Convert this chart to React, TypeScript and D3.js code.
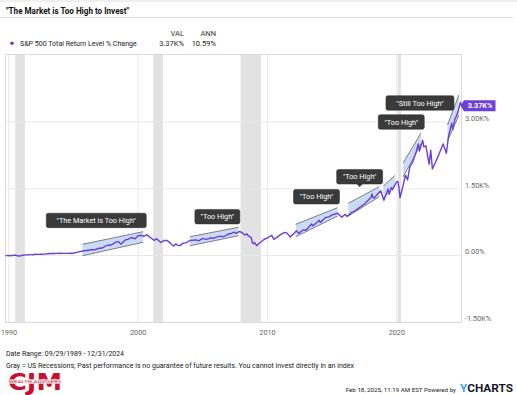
import React from "react";
import * as d3 from "d3";

// ---------- DATA ----------
const seriesName = "S&P 500 Total Return Level % Change";
const titleText = '"The Market is Too High to Invest"';
const legendVal = "3.37K%";
const legendAnn = "10.59%";

// S&P 500 total return level, % change since 09/29/1989
const sp500: [string, number][] = [
  ["1989-09-29", 0], ["1989-10-31", -2], ["1989-12-31", 2], ["1990-01-31", -5], ["1990-03-31", -1],
  ["1990-05-31", 4], ["1990-07-31", 4], ["1990-08-31", -6], ["1990-10-31", -10], ["1990-12-31", -1],
  ["1991-02-28", 10], ["1991-04-30", 13], ["1991-06-30", 13], ["1991-08-31", 20], ["1991-10-31", 19],
  ["1991-11-30", 14], ["1991-12-31", 29], ["1992-03-31", 25], ["1992-06-30", 29], ["1992-09-30", 32],
  ["1992-12-31", 39], ["1993-03-31", 44], ["1993-06-30", 45], ["1993-09-30", 48], ["1993-12-31", 53],
  ["1994-03-31", 47], ["1994-06-30", 47], ["1994-09-30", 52], ["1994-11-30", 46], ["1994-12-31", 55],
  ["1995-03-31", 69], ["1995-06-30", 86], ["1995-09-30", 101], ["1995-12-31", 113], ["1996-03-31", 125],
  ["1996-06-30", 134], ["1996-07-31", 128], ["1996-09-30", 141], ["1996-12-31", 162], ["1997-03-31", 169],
  ["1997-06-30", 216], ["1997-09-30", 240], ["1997-10-31", 230], ["1997-12-31", 250], ["1998-03-31", 298],
  ["1998-06-30", 311], ["1998-08-31", 255], ["1998-09-30", 277], ["1998-12-31", 349], ["1999-03-31", 370],
  ["1999-06-30", 405], ["1999-09-30", 373], ["1999-12-31", 444], ["2000-03-31", 456], ["2000-05-31", 430],
  ["2000-08-31", 466], ["2000-10-31", 430], ["2000-12-31", 394], ["2001-03-31", 336], ["2001-05-31", 380],
  ["2001-06-30", 361], ["2001-09-30", 293], ["2001-12-31", 336], ["2002-03-31", 337], ["2002-06-30", 278],
  ["2002-07-31", 248], ["2002-09-30", 213], ["2002-11-30", 266], ["2002-12-31", 239], ["2003-02-28", 222],
  ["2003-03-31", 228], ["2003-06-30", 279], ["2003-09-30", 289], ["2003-12-31", 337], ["2004-03-31", 344],
  ["2004-06-30", 352], ["2004-08-31", 330], ["2004-12-31", 384], ["2005-03-31", 363], ["2005-06-30", 381],
  ["2005-07-31", 399], ["2005-10-31", 384], ["2005-12-31", 408], ["2006-04-30", 435], ["2006-06-30", 422],
  ["2006-09-30", 443], ["2006-12-31", 488], ["2007-02-28", 490], ["2007-05-31", 525], ["2007-07-31", 500],
  ["2007-10-31", 540], ["2007-12-31", 521], ["2008-03-31", 462], ["2008-05-31", 486], ["2008-06-30", 447],
  ["2008-09-30", 401], ["2008-10-31", 286], ["2008-11-30", 262], ["2008-12-31", 291], ["2009-02-28", 220],
  ["2009-03-31", 248], ["2009-06-30", 303], ["2009-09-30", 366], ["2009-12-31", 395], ["2010-04-30", 455],
  ["2010-06-30", 362], ["2010-09-30", 414], ["2010-12-31", 469], ["2011-04-30", 518], ["2011-06-30", 509],
  ["2011-09-30", 418], ["2011-12-31", 481], ["2012-03-31", 554], ["2012-05-31", 497], ["2012-09-30", 575],
  ["2012-12-31", 574], ["2013-05-31", 708], ["2013-06-30", 667], ["2013-09-30", 727], ["2013-12-31", 793],
  ["2014-01-31", 745], ["2014-06-30", 855], ["2014-09-30", 870], ["2014-12-31", 915], ["2015-05-31", 950],
  ["2015-09-30", 861], ["2015-12-31", 929], ["2016-02-29", 875], ["2016-06-30", 968], ["2016-09-30", 1000],
  ["2016-12-31", 1053], ["2017-06-30", 1159], ["2017-12-31", 1304], ["2018-01-31", 1384], ["2018-02-28", 1295],
  ["2018-03-31", 1293], ["2018-09-30", 1458], ["2018-12-31", 1242], ["2019-04-30", 1497], ["2019-05-31", 1374],
  ["2019-07-31", 1528], ["2019-08-31", 1480], ["2019-12-31", 1665], ["2020-01-31", 1660], ["2020-02-29", 1530],
  ["2020-03-31", 1299], ["2020-06-30", 1586], ["2020-08-31", 1807], ["2020-10-31", 1700], ["2020-12-31", 1990],
  ["2021-03-31", 2113], ["2021-06-30", 2336], ["2021-08-31", 2508], ["2021-09-30", 2350], ["2021-12-31", 2590],
  ["2022-01-31", 2442], ["2022-03-31", 2466], ["2022-06-30", 2053], ["2022-08-15", 2370], ["2022-09-30", 1948],
  ["2022-12-31", 2103], ["2023-03-31", 2269], ["2023-07-31", 2510], ["2023-10-31", 2300], ["2023-12-31", 2682],
  ["2024-03-31", 2974], ["2024-04-30", 2830], ["2024-06-30", 3080], ["2024-07-31", 3117], ["2024-09-30", 3250],
  ["2024-11-30", 3450], ["2024-12-31", 3370],
];

const recessions: [string, string][] = [
  ["1990-07-01", "1991-03-31"],
  ["2001-03-01", "2001-11-30"],
  ["2007-12-01", "2009-06-30"],
  ["2020-02-01", "2020-04-30"],
];

// "Too high" channels: from/to dates, low/high value at start and at end
const channelFrom = ["1995-09-15", "2004-01-05", "2012-03-10", "2016-04-01", "2018-12-15", "2020-06-25", "2023-12-01"];
const channelTo = ["2000-05-20", "2007-10-05", "2015-05-30", "2018-08-25", "2019-11-05", "2021-11-15", "2024-10-20"];
const channelLow0 = [-4, 220, 423, 888, 1293, 1765, 2575];
const channelHigh0 = [252, 423, 702, 1174, 1563, 2080, 2935];
const channelLow1 = [297, 445, 888, 1322, 1563, 2508, 3160];
const channelHigh1 = [535, 634, 1075, 1547, 1799, 2755, 3610];

const calloutTexts = ['"The Market is Too High"', '"Too High"', '"Too High"', '"Too High"', '"Too High"', '"Still Too High"'];
const calloutDates = ["1996-10-05", "2006-02-15", "2013-10-15", "2017-02-15", "2020-05-05", "2021-10-15"];
const calloutValues = [789, 873, 1322, 1770, 3002, 3430];
const calloutWidths = [100, 45, 46, 46, 46, 68];

const xTickYears = [1990, 2000, 2010, 2020];
const yTicks = [-1500, 0, 1500, 3000];

const footerLine1 = "Date Range: 09/29/1989 - 12/31/2024";
const footerLine2 =
  "Gray = US Recessions; Past performance is no guarantee of future results. You cannot invest directly in an index";
const footerStamp = "Feb 18, 2025, 11:19 AM EST Powered by";

// ---------- CHART ----------
const W = 517;
const H = 395;
const FONT = "Roboto, 'Noto Sans', sans-serif";
const PURPLE = "#6b3fd6";

export default function App() {
  const parse = d3.timeParse("%Y-%m-%d");
  const data = sp500.map(([d, v]) => ({ date: parse(d) as Date, value: v }));

  const x = d3
    .scaleTime()
    .domain([parse("1989-09-29") as Date, parse("2024-12-31") as Date])
    .range([5.5, 461.5]);
  const y = d3.scaleLinear().domain([-1500, 4500]).range([322.2, 55.4]);

  const plotTop = 54.5;
  const plotBottom = 322.5;
  const plotLeft = 5.5;
  const plotRight = 461.5;

  const line = d3
    .line<{ date: Date; value: number }>()
    .x((d) => x(d.date))
    .y((d) => y(d.value))
    .curve(d3.curveLinear);

  const fmt = (v: number) => (v === 0 ? "0.00%" : (v / 1000).toFixed(2) + "K%");

  const last = data[data.length - 1];
  const tagY = y(last.value);

  return (
    <svg
      width={W}
      height={H}
      viewBox={`0 0 ${W} ${H}`}
      style={{ position: "absolute", left: 0, top: 0, background: "#fff" }}
      fontFamily={FONT}
    >
      <rect x={0} y={0} width={W} height={H} fill="#fff" />
      <rect x={0} y={0} width={W} height={2} fill="#efefef" />

      {/* Title */}
      <text x={6} y={14} fontSize={9} fontWeight={700} fill="#111" textLength={123} lengthAdjust="spacingAndGlyphs">
        {titleText}
      </text>
      <line x1={0} x2={513} y1={17.5} y2={17.5} stroke="#dcdcdc" strokeWidth={1} />

      {/* Legend */}
      <text x={184} y={36} fontSize={7.5} fill="#333" textAnchor="end">VAL</text>
      <text x={216} y={36} fontSize={7.5} fill="#333" textAnchor="end">ANN</text>
      <circle cx={12} cy={43.3} r={1.8} fill={PURPLE} />
      <text x={20} y={46} fontSize={7.5} fill="#222" textLength={116.7} lengthAdjust="spacingAndGlyphs">
        {seriesName}
      </text>
      <text x={184} y={46} fontSize={7.5} fill="#222" textAnchor="end">{legendVal}</text>
      <text x={216} y={46} fontSize={7.5} fill="#222" textAnchor="end">{legendAnn}</text>

      {/* Recession bands */}
      {recessions.map(([a, b], i) => (
        <rect
          key={"rec" + i}
          x={x(parse(a) as Date)}
          y={plotTop}
          width={Math.max(1, x(parse(b) as Date) - x(parse(a) as Date))}
          height={plotBottom - plotTop}
          fill="#e2e2e2"
        />
      ))}

      {/* Grid */}
      {xTickYears.map((yr) => (
        <line
          key={"gx" + yr}
          x1={x(new Date(yr, 0, 1))}
          x2={x(new Date(yr, 0, 1))}
          y1={plotTop}
          y2={plotBottom}
          stroke="#e8e8e8"
          strokeWidth={1}
        />
      ))}
      {yTicks.map((v) => (
        <line key={"gy" + v} x1={plotLeft} x2={plotRight} y1={y(v)} y2={y(v)} stroke="#e8e8e8" strokeWidth={1} />
      ))}
      <rect
        x={plotLeft}
        y={plotTop}
        width={plotRight - plotLeft}
        height={plotBottom - plotTop}
        fill="none"
        stroke="#dadada"
        strokeWidth={1}
      />

      {/* Channels */}
      {channelFrom.map((f, i) => {
        const x0 = x(parse(f) as Date);
        const x1 = x(parse(channelTo[i]) as Date);
        const pts = [
          [x0, y(channelHigh0[i])],
          [x1, y(channelHigh1[i])],
          [x1, y(channelLow1[i])],
          [x0, y(channelLow0[i])],
        ];
        return (
          <g key={"ch" + i}>
            <polygon points={pts.map((p) => p.join(",")).join(" ")} fill="#bcd3f5" fillOpacity={0.8} />
            <line x1={x0} y1={y(channelHigh0[i])} x2={x1} y2={y(channelHigh1[i])} stroke="#7d7d7d" strokeWidth={1} />
            <line x1={x0} y1={y(channelLow0[i])} x2={x1} y2={y(channelLow1[i])} stroke="#7d7d7d" strokeWidth={1} />
          </g>
        );
      })}

      {/* Series line */}
      <path d={line(data) || ""} fill="none" stroke={PURPLE} strokeWidth={1.4} strokeLinejoin="round" />

      {/* Callouts */}
      {calloutTexts.map((t, i) => {
        const cx = x(parse(calloutDates[i]) as Date);
        const cy = y(calloutValues[i]);
        const w = calloutWidths[i];
        const h = 14.5;
        return (
          <g key={"co" + i}>
            <rect x={cx - w / 2} y={cy - h / 2} width={w} height={h} rx={2} fill="#3a3a3a" stroke="#2a2a2a" strokeWidth={0.5} />
            {i === 3 && (
              <polygon
                points={`${cx - 3},${cy + h / 2} ${cx + 3},${cy + h / 2} ${cx},${cy + h / 2 + 3}`}
                fill="#3a3a3a"
              />
            )}
            <text x={cx} y={cy + 2.6} fontSize={7.3} fill="#fff" textAnchor="middle">
              {t}
            </text>
          </g>
        );
      })}

      {/* Y axis labels */}
      {yTicks.map((v) => (
        <text key={"yl" + v} x={465} y={y(v) - 1.3} fontSize={7.3} fill="#666">
          {fmt(v)}
        </text>
      ))}

      {/* X axis labels */}
      {xTickYears.map((yr) => (
        <text key={"xl" + yr} x={x(new Date(yr, 0, 1))} y={334.5} fontSize={7.3} fill="#666" textAnchor="middle">
          {yr}
        </text>
      ))}

      {/* End value tag */}
      <polygon
        points={`${plotRight - 1},${tagY} ${plotRight + 2.5},${tagY - 5.5} ${plotRight + 34},${tagY - 5.5} ${plotRight + 34},${tagY + 5.5} ${plotRight + 2.5},${tagY + 5.5}`}
        fill="#6c3fd8"
      />
      <text x={plotRight + 18.5} y={tagY + 2.7} fontSize={7.3} fontWeight={700} fill="#fff" textAnchor="middle">
        {fmt(last.value)}
      </text>

      {/* Footer */}
      <text x={6} y={355.5} fontSize={7.3} fill="#222" textLength={118} lengthAdjust="spacingAndGlyphs">
        {footerLine1}
      </text>
      <text x={6} y={367.5} fontSize={7.3} fill="#222" textLength={348} lengthAdjust="spacingAndGlyphs">
        {footerLine2}
      </text>

      {/* CJM logo */}
      <g>
        <text
          x={8}
          y={389.5}
          fontSize={23}
          fontWeight={900}
          fill="#c8102e"
          textLength={54}
          lengthAdjust="spacingAndGlyphs"
          fontFamily="'DejaVu Sans', sans-serif"
        >
          CJM
        </text>
        <rect x={6} y={379.4} width={58} height={4.2} fill="#fff" />
        <text x={8.5} y={383} fontSize={3.8} fill="#c8102e" textLength={53} lengthAdjust="spacingAndGlyphs">
          WEALTH ADVISERS
        </text>
      </g>

      <text x={456} y={391.5} fontSize={6.2} fill="#222" textAnchor="end">
        {footerStamp}
      </text>
      <text
        x={460}
        y={391.5}
        fontSize={10}
        fontWeight={700}
        fill="#16182a"
        textLength={53}
        lengthAdjust="spacingAndGlyphs"
      >
        <tspan fill="#2ea3f2">Y</tspan>CHARTS
      </text>
    </svg>
  );
}
